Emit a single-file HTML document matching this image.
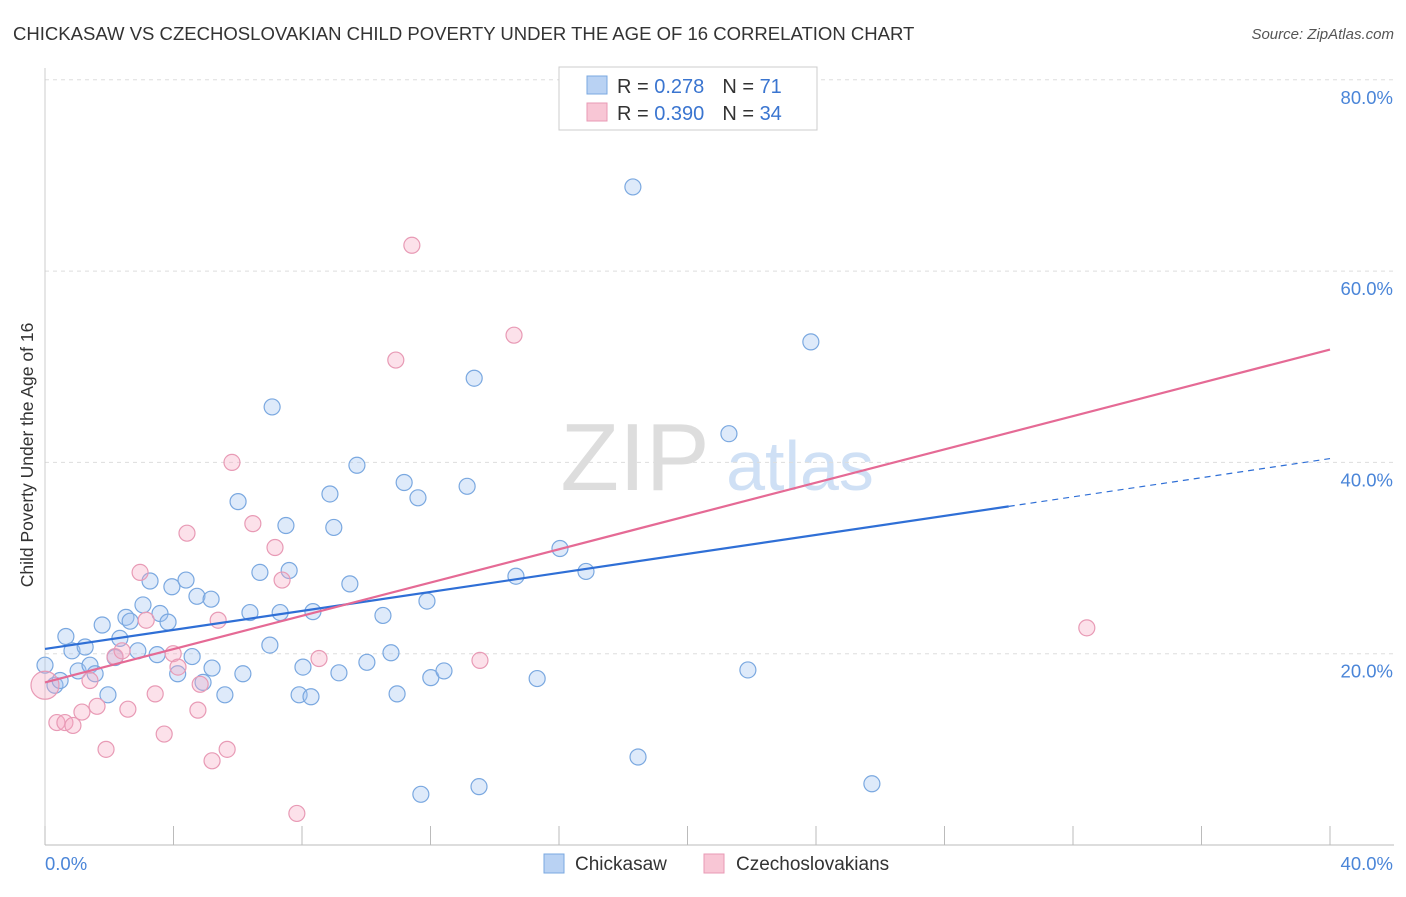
<!DOCTYPE html>
<html><head><meta charset="utf-8">
<style>
body{margin:0;background:#fff;font-family:"Liberation Sans",sans-serif;}
svg text{font-family:"Liberation Sans",sans-serif;}
</style></head>
<body>
<svg id="chart" width="1406" height="892" xmlns="http://www.w3.org/2000/svg">
<text x="13" y="40" font-size="18.55" fill="#333">CHICKASAW VS CZECHOSLOVAKIAN CHILD POVERTY UNDER THE AGE OF 16 CORRELATION CHART</text>
<text x="1394" y="39" font-size="15" fill="#555" text-anchor="end" font-style="italic">Source: ZipAtlas.com</text>
<text transform="translate(33,455) rotate(-90)" font-size="17.5" fill="#333" text-anchor="middle">Child Poverty Under the Age of 16</text>
<g>
<text x="635" y="490" font-size="96" fill="#ddd" text-anchor="middle" font-family="Liberation Serif">ZIP</text>
<text x="800" y="490" font-size="70" fill="#cfe0f5" text-anchor="middle">atlas</text>
</g>
<g id="grid"></g>
<g id="axes"></g>
<g id="points"></g>
<g id="lines"></g>
<g>
<rect x="559" y="67" width="258" height="63" fill="#fff" stroke="#ccc"/>
<rect x="587" y="76" width="20" height="18" fill="#b9d2f3" stroke="#7aa8e0"/>
<rect x="587" y="103" width="20" height="18" fill="#f8c6d5" stroke="#e89ab5"/>
<text x="617" y="93" font-size="20" fill="#333">R = <tspan fill="#3a75d0"> 0.278</tspan><tspan dx="18" fill="#333">N = </tspan><tspan fill="#3a75d0"> 71</tspan></text>
<text x="617" y="120" font-size="20" fill="#333">R = <tspan fill="#3a75d0">0.390</tspan><tspan dx="18" fill="#333">N = </tspan><tspan fill="#3a75d0">34</tspan></text>
</g>
<g>
<rect x="544" y="854" width="20" height="19" fill="#b9d2f3" stroke="#7aa8e0"/>
<text x="575" y="870" font-size="19" fill="#333">Chickasaw</text>
<rect x="704" y="854" width="20" height="19" fill="#f8c6d5" stroke="#e89ab5"/>
<text x="736" y="870" font-size="19" fill="#333">Czechoslovakians</text>
</g>
</svg>
<script>
const yTicks=[20,40,60,80];
const yTickLabels=["20.0%","40.0%","60.0%","80.0%"];
const xTicks=[0,4,8,12,16,20,24,28,32,36,40];
const blueX=[0,0.31,0.47,0.65,0.84,1.03,1.25,1.4,1.56,1.78,1.96,2.18,2.33,2.52,2.65,2.89,3.05,3.27,3.49,3.58,3.83,3.95,4.13,4.39,4.58,4.73,4.92,5.17,5.2,5.6,6.01,6.16,6.38,6.69,7.0,7.07,7.32,7.5,7.6,7.91,8.03,8.28,8.34,8.87,8.99,9.15,9.49,9.71,10.02,10.52,10.77,10.96,11.18,11.61,11.7,11.89,12.01,12.42,13.14,13.36,13.51,14.66,15.32,16.03,16.84,18.3,18.46,21.29,21.88,23.84,25.74];
const blueY=[18.8,16.7,17.2,21.8,20.3,18.2,20.7,18.8,17.9,23.0,15.7,19.6,21.6,23.8,23.4,20.3,25.1,27.6,19.9,24.2,23.3,27.0,17.9,27.7,19.7,26.0,17.0,25.7,18.5,15.7,35.9,17.9,24.3,28.5,20.9,45.8,24.3,33.4,28.7,15.7,18.6,15.5,24.4,36.7,33.2,18.0,27.3,39.7,19.1,24.0,20.1,15.8,37.9,36.3,5.3,25.5,17.5,18.2,37.5,48.8,6.1,28.1,17.4,31.0,28.6,68.8,9.2,43.0,18.3,52.6,6.4];
const pinkX=[0,0.37,0.62,0.87,1.15,1.4,1.62,1.9,2.18,2.4,2.58,2.96,3.15,3.43,3.71,3.99,4.14,4.42,4.76,4.83,5.2,5.39,5.67,5.82,6.47,7.16,7.38,7.84,8.53,10.92,11.42,13.54,14.6,32.43];
const pinkY=[16.7,12.8,12.8,12.5,13.9,17.2,14.5,10.0,19.7,20.3,14.2,28.5,23.5,15.8,11.6,20.0,18.6,32.6,14.1,16.8,8.8,23.5,10.0,40.0,33.6,31.1,27.7,3.3,19.5,50.7,62.7,19.3,53.3,22.7];
const blueTrend=[0,20.5,30,35.4,40,40.4];
const pinkTrend=[0,17.0,40,51.8];
const X=v=>45+v/40*1285, Y=v=>845-v/20*191.3;
const NS="http://www.w3.org/2000/svg";
function mk(t,a,p){const e=document.createElementNS(NS,t);for(const k in a)e.setAttribute(k,a[k]);p.appendChild(e);return e;}
const grid=document.getElementById('grid'),axes=document.getElementById('axes'),pts=document.getElementById('points'),lines=document.getElementById('lines');
yTicks.forEach((v,i)=>{
 const l=mk('line',{x1:45,x2:1394,y1:Y(v),y2:Y(v),stroke:'#ddd','stroke-dasharray':'4,4'},grid);
 
 
 const t=mk('text',{x:1393,y:Y(v)+24,'font-size':18.5,fill:'#4a85d8','text-anchor':'end'},axes);
 t.textContent=yTickLabels[i];
 
 
});
const xa=mk('line',{x1:45,x2:1394,y1:845,y2:845,stroke:'#bbb'},axes);


const ya=mk('line',{x1:45,x2:45,y1:68,y2:845,stroke:'#ccc'},axes);


xTicks.forEach(v=>{const l=mk('line',{x1:X(v),x2:X(v),y1:826,y2:845,stroke:'#bbb'},axes);
 
 });
[["0.0%",45,"start"],["40.0%",1393,"end"]].forEach(a=>{const t=mk('text',{x:a[1],y:870,'font-size':18.5,fill:'#4a85d8','text-anchor':a[2]},axes);t.textContent=a[0];
 
 });
blueX.forEach((v,i)=>{const c=mk('circle',{cx:X(v),cy:Y(blueY[i]),r:8,fill:'rgba(160,195,240,0.35)',stroke:'#7aa8e0','stroke-width':1.2},pts);
 
 });
pinkX.forEach((v,i)=>{const c=mk('circle',{cx:X(v),cy:Y(pinkY[i]),r:i==0?14:8,fill:'rgba(245,170,195,0.35)',stroke:'#e89ab5','stroke-width':1.2},pts);
 
 });
const b1=mk('line',{x1:X(blueTrend[0]),y1:Y(blueTrend[1]),x2:X(blueTrend[2]),y2:Y(blueTrend[3]),stroke:'#2f6fd6','stroke-width':2.2},lines);


const b2=mk('line',{x1:X(blueTrend[2]),y1:Y(blueTrend[3]),x2:X(blueTrend[4]),y2:Y(blueTrend[5]),stroke:'#2f6fd6','stroke-width':1.2,'stroke-dasharray':'6,5'},lines);


const p1=mk('line',{x1:X(pinkTrend[0]),y1:Y(pinkTrend[1]),x2:X(pinkTrend[2]),y2:Y(pinkTrend[3]),stroke:'#e56a95','stroke-width':2.2},lines);


</script>
</body></html>
